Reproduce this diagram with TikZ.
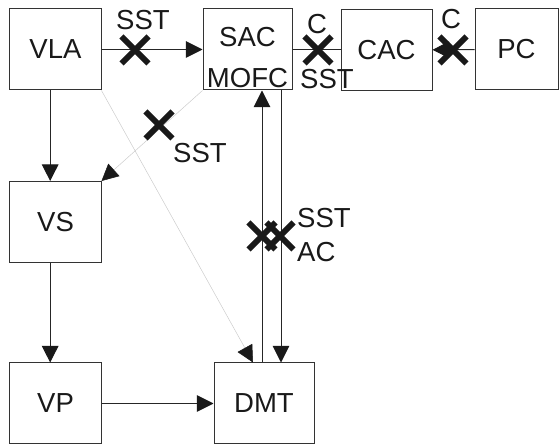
\documentclass[tikz,border=0pt]{standalone}
\usepackage{fontspec}
\setmainfont{Liberation Sans}
\usetikzlibrary{arrows.meta,shapes.misc}
\tikzset{
  blk/.style={draw=black!80,line width=0.3mm,minimum width=27.3mm,minimum height=24.3mm,inner sep=0pt,text=black!90},
  lnk/.style={draw=black!85,line width=0.3mm},
  faint/.style={draw=black!20,line width=0.15mm},
  arr/.style={-{Triangle[length=5mm,width=5mm,color=black!90]}},
  cut/.style={cross out,draw=black!90,line width=1.7mm,minimum size=6.4mm,inner sep=0pt},
  tag/.style={inner sep=0pt,text=black!90}
}
\begin{document}
\begin{tikzpicture}[x=0.3mm,y=-0.3mm,font=\fontsize{23.5}{28}\selectfont]
  \useasboundingbox (0,0) rectangle (559,445);
  % blocks
  \node[blk] (vla) at (55.5,49.5) {VLA};
  \node[blk,minimum width=26.7mm] (sac) at (247.5,49.5) {};
  \node[blk] (cac) at (386.5,50) {CAC};
  \node[blk,minimum width=24.9mm] (pc) at (516.5,49.5) {PC};
  \node[blk] (vs) at (55.5,222) {VS};
  \node[blk] (vp) at (55.5,403.5) {VP};
  \node[blk,minimum width=30mm] (dmt) at (264,403.5) {DMT};
  \node[tag] (sacname) at (247.5,37) {SAC};
  \node[tag] (mofcname) at (247.5,78) {MOFC};
  % faint links
  \draw[faint,arr] (sac.south west) -- (vs.north east);
  \draw[faint,arr] (vla.south east) -- ([xshift=-3.3mm]dmt.north);
  % links
  \draw[lnk,arr] (vla) -- (sac);
  \draw[lnk] (sac.east) -- (cac.west |- sac.east);
  \draw[lnk,arr] (pc) -- (cac);
  \draw[lnk,arr] ([xshift=-1.6mm]vla.south) -- ([xshift=-1.6mm]vs.north);
  \draw[lnk,arr] ([xshift=-1.6mm]vs.south) -- ([xshift=-1.6mm]vp.north);
  \draw[lnk,arr] (vp) -- (dmt);
  \draw[lnk,arr] ([xshift=-0.6mm]dmt.north) -- ([xshift=-0.6mm]dmt.north |- sac.south);
  \draw[lnk,arr] ([xshift=5.1mm]dmt.north |- sac.south) -- ([xshift=5.1mm]dmt.north);
  % cuts
  \node[cut] (cut1) at (135,50) {};
  \node[cut] (cut2) at (318,50) {};
  \node[cut] (cut3) at (453,50) {};
  \node[cut] (cut4) at (159,125) {};
  \node[cut] (cut5) at (262,236) {};
  \node[cut] (cut6) at (280,236) {};
  % labels
  \node[tag] (sst1) at (143,20) {SST};
  \node[tag] (c2) at (317,24) {C};
  \node[tag] (sst2) at (327,79) {SST};
  \node[tag] (c3) at (451,19) {C};
  \node[tag] (sst4) at (200,153) {SST};
  \node[tag,anchor=west] (sst5) at (297,218) {SST};
  \node[tag,anchor=west] (ac) at (297,252) {AC};
\end{tikzpicture}
\end{document}
